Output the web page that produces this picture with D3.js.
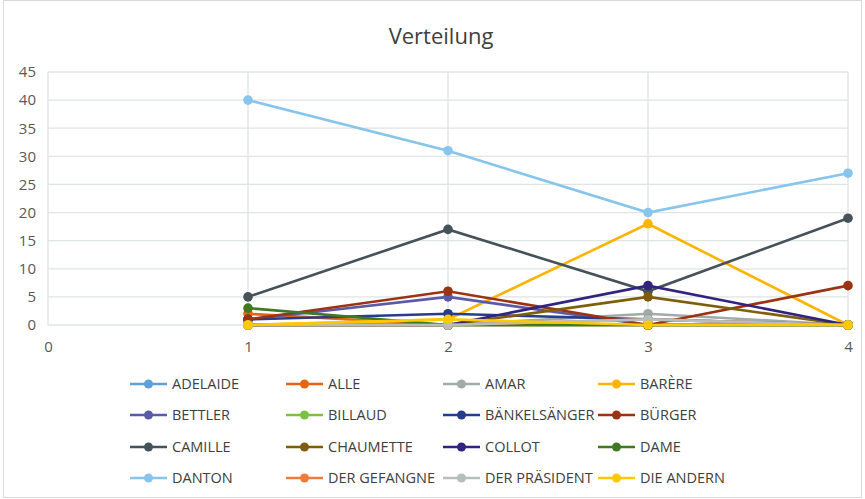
<!DOCTYPE html>
<html>
<head>
<meta charset="utf-8">
<title>Verteilung</title>
<script src="https://cdn.jsdelivr.net/npm/d3@7"></script>
<style>
body { margin: 0; background: #fff; }
svg { display: block; font-family: "Open Sans", "Noto Sans", sans-serif; }
</style>
</head>
<body>
<svg id="chart" width="865" height="499"></svg>
<script>
// x positions (acts / scenes) and one value list per speaker
var xTicks = [0, 1, 2, 3, 4];
var yTicks = [0, 5, 10, 15, 20, 25, 30, 35, 40, 45];
var xs = [1, 2, 3, 4];

var names = ['ADELAIDE', 'ALLE', 'AMAR', 'BARÈRE', 'BETTLER', 'BILLAUD', 'BÄNKELSÄNGER', 'BÜRGER',
  'CAMILLE', 'CHAUMETTE', 'COLLOT', 'DAME', 'DANTON', 'DER GEFANGNE', 'DER PRÄSIDENT', 'DIE ANDERN'];

var adelaide     = [0, 0, 0, 0];
var alle         = [2, 0, 0, 0];
var amar         = [0, 0, 2, 0];
var barere       = [0, 1, 18, 0];
var bettler      = [1, 5, 0, 0];
var billaud      = [0, 0, 0, 0];
var baenkel      = [1, 2, 1, 0];
var buerger      = [1, 6, 0, 7];
var camille      = [5, 17, 6, 19];
var chaumette    = [0, 0, 5, 0];
var collot       = [0, 0, 7, 0];
var dame         = [3, 0, 0, 0];
var danton       = [40, 31, 20, 27];
var gefangne     = [0, 0, 1, 0];
var praesident   = [0, 0, 1, 0];
var andern       = [0, 1, 0, 0];

var values = [adelaide, alle, amar, barere, bettler, billaud, baenkel, buerger,
  camille, chaumette, collot, dame, danton, gefangne, praesident, andern];

var colors = ['#5fa0da', '#e8650f', '#a1abaa', '#fbb400', '#5a5aa8', '#7cc142', '#273c8c', '#9b3312',
  '#46525a', '#7e5e0b', '#31237f', '#3f7a22', '#87c5ec', '#f07c3a', '#b3bebd', '#fcc900'];

var svg = d3.select('#chart');

// outer frame
svg.append('rect')
  .attr('x', 3.5).attr('y', 0.5)
  .attr('width', 858).attr('height', 497)
  .attr('fill', 'none').attr('stroke', '#d9d9d9');

svg.append('text')
  .attr('x', 441).attr('y', 44)
  .attr('text-anchor', 'middle')
  .attr('font-size', 22)
  .attr('fill', '#404040')
  .text('Verteilung');

var x = d3.scaleLinear().domain([0, 4]).range([48, 848]);
var y = d3.scaleLinear().domain([0, 45]).range([325, 72]);

// grid
var grid = svg.append('g');
grid.selectAll('.hg').data(yTicks).enter().append('line')
  .attr('x1', x(0)).attr('x2', x(4))
  .attr('y1', function(d) { return y(d); })
  .attr('y2', function(d) { return y(d); })
  .attr('stroke', '#dfe4e4').attr('stroke-width', 1.3);
grid.selectAll('.vg').data(xTicks).enter().append('line')
  .attr('y1', y(0)).attr('y2', y(45))
  .attr('x1', function(d) { return x(d); })
  .attr('x2', function(d) { return x(d); })
  .attr('stroke', '#dfe4e4').attr('stroke-width', 1.3);

// axes, labels only
var yAxis = svg.append('g')
  .attr('transform', 'translate(' + x(0) + ',0)')
  .call(d3.axisLeft(y).tickValues(yTicks).tickSize(0).tickPadding(12).tickFormat(d3.format('d')));
var xAxis = svg.append('g')
  .attr('transform', 'translate(0,' + y(0) + ')')
  .call(d3.axisBottom(x).tickValues(xTicks).tickSize(0).tickPadding(16).tickFormat(d3.format('d')));
[yAxis, xAxis].forEach(function(a) {
  a.select('.domain').remove();
  a.selectAll('text')
    .attr('font-family', '"Open Sans", sans-serif')
    .attr('font-size', 15)
    .attr('fill', '#595959');
});

// series
var line = d3.line()
  .x(function(d, i) { return x(xs[i]); })
  .y(function(d) { return y(d); });

var series = svg.append('g').selectAll('g')
  .data(values).enter().append('g');

series.append('path')
  .attr('d', function(d) { return line(d); })
  .attr('fill', 'none')
  .attr('stroke', function(d, i) { return colors[i]; })
  .attr('stroke-width', 2.6);

series.each(function(d, i) {
  d3.select(this).selectAll('circle')
    .data(d).enter().append('circle')
    .attr('cx', function(v, j) { return x(xs[j]); })
    .attr('cy', function(v) { return y(v); })
    .attr('r', 4.8)
    .attr('fill', colors[i]);
});

// legend, 4 columns
var legend = svg.append('g');
var colX = [130, 286, 443, 598];
var rowY = [384, 415, 447, 478];
var item = legend.selectAll('g').data(names).enter().append('g')
  .attr('transform', function(d, i) {
    return 'translate(' + colX[i % 4] + ',' + rowY[Math.floor(i / 4)] + ')';
  });
item.append('line')
  .attr('x1', 0).attr('x2', 37)
  .attr('stroke', function(d, i) { return colors[i]; })
  .attr('stroke-width', 2.6);
item.append('circle')
  .attr('cx', 18.5).attr('r', 4.5)
  .attr('fill', function(d, i) { return colors[i]; });
item.append('text')
  .attr('x', 42).attr('y', 5)
  .attr('font-size', 14.5)
  .attr('fill', '#404040')
  .text(function(d) { return d; });
</script>
</body>
</html>
